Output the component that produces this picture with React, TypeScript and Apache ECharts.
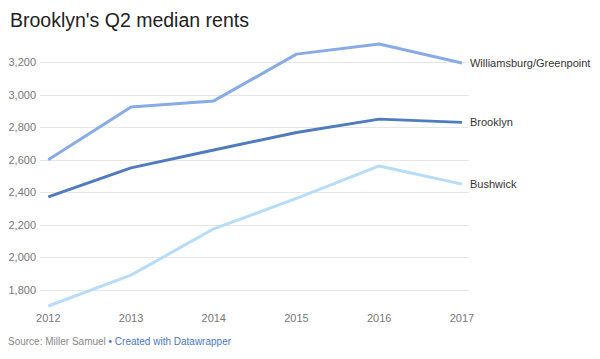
import React, { useEffect, useRef } from "react";
import * as echarts from "echarts";

const years = [2012, 2013, 2014, 2015, 2016, 2017];
const williamsburg = [2600, 2925, 2962, 3250, 3312, 3195];
const brooklyn = [2372, 2550, 2660, 2768, 2850, 2830];
const bushwick = [1700, 1890, 2175, 2362, 2562, 2450];
const seriesNames = ["Williamsburg/Greenpoint", "Brooklyn", "Bushwick"];
const yTickLabels = [1800, 2000, 2200, 2400, 2600, 2800, 3000, 3200];

const FONT = "'Helvetica Neue', Helvetica, 'Liberation Sans', Arial, sans-serif";

export default function App() {
  const ref = useRef<HTMLDivElement>(null);
  useEffect(() => {
    if (!ref.current) return;
    const chart = echarts.init(ref.current, null, { renderer: "svg" });
    const pairs = (vals: number[]) => years.map((y, i) => [y, vals[i]]);
    const mk = (name: string, vals: number[], color: string) => ({
      name,
      type: "line",
      data: pairs(vals),
      symbol: "none",
      clip: false,
      lineStyle: { color, width: 3 },
      itemStyle: { color },
      endLabel: {
        show: true,
        formatter: "{a}",
        distance: 8,
        color: "#333",
        fontSize: 11,
        fontFamily: FONT,
      },
    });
    chart.setOption({
      animation: false,
      textStyle: { fontFamily: FONT },
      title: {
        text: "Brooklyn's Q2 median rents",
        left: 5,
        top: 5,
        textStyle: { fontSize: 19.5, fontWeight: "normal", color: "#222", fontFamily: FONT },
      },
      graphic: [
        {
          type: "text",
          x: 8,
          y: 341,
          style: {
            text: "Source: Miller Samuel {b|• Created with Datawrapper}",
            fontSize: 10,
            fill: "#888",
            fontFamily: FONT,
            verticalAlign: "middle",
            rich: { b: { fill: "#4a78c4", fontSize: 10, fontFamily: FONT } },
          },
        },
      ],
      grid: { left: 40, right: 131, top: 46, bottom: 53 },
      xAxis: {
        type: "value",
        min: 2011.9,
        max: 2017.085,
        axisLine: { show: false },
        axisTick: { show: false },
        splitLine: { show: false },
        axisLabel: {
          customValues: years,
          formatter: (v: number) => String(v),
          color: "#777",
          fontSize: 11,
          margin: 6,
          fontFamily: FONT,
        },
      },
      yAxis: {
        type: "value",
        min: 1700,
        max: 3300,
        interval: 100,
        axisLine: { show: false },
        axisTick: { show: false },
        axisLabel: {
          formatter: (v: number) =>
            yTickLabels.includes(v) ? v.toLocaleString("en-US") : "",
          color: "#777",
          fontSize: 11,
          margin: 4,
          fontFamily: FONT,
        },
        splitLine: {
          show: true,
          lineStyle: { color: ["rgba(0,0,0,0)", "#e6e6e6"], width: 1 },
        },
      },
      series: [
        mk(seriesNames[0], williamsburg, "#88abe8"),
        mk(seriesNames[1], brooklyn, "#4f7bbf"),
        mk(seriesNames[2], bushwick, "#b6dcf8"),
      ],
    });
    return () => chart.dispose();
  }, []);
  return (
    <div
      ref={ref}
      style={{ position: "fixed", left: 0, top: 0, width: 600, height: 359, background: "#fff" }}
    />
  );
}
